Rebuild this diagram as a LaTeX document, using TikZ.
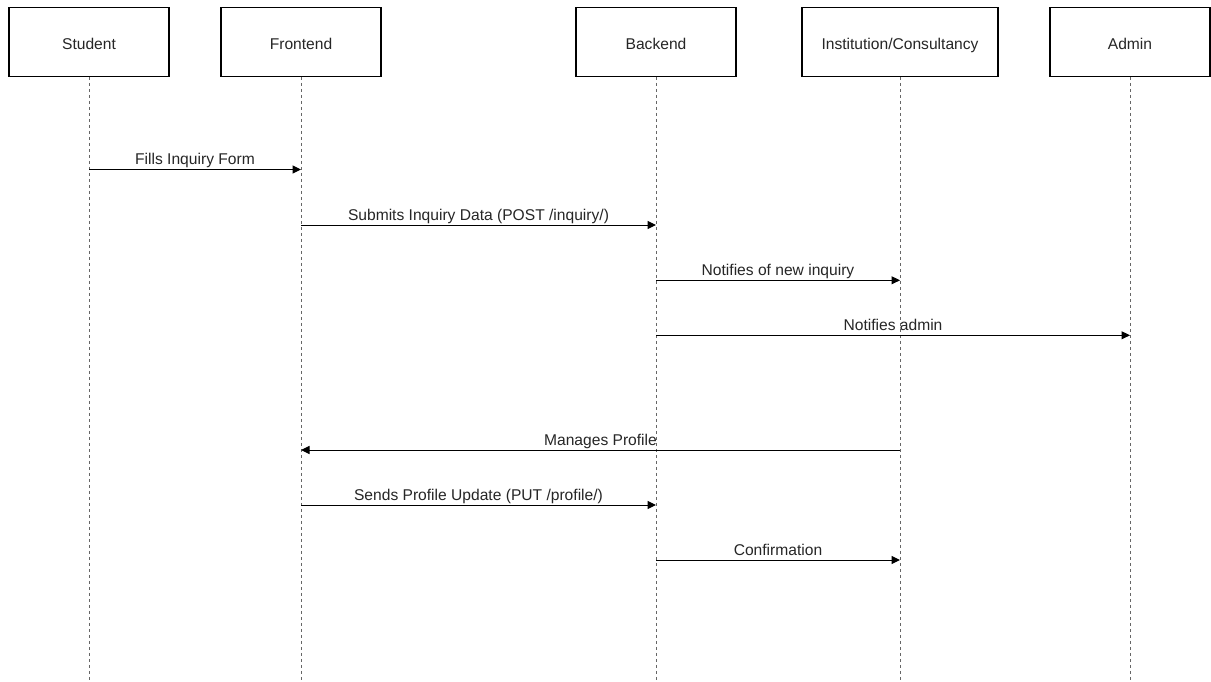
\documentclass[tikz,border=0pt]{standalone}
\usepackage{fontspec}
\setmainfont{Liberation Sans}
\usetikzlibrary{arrows.meta}
\begin{document}
\begin{tikzpicture}[x=1pt,y=-1pt,
  actor/.style={draw=black, line width=1.3pt, minimum height=69pt, inner sep=0pt,
    text height=16.4pt, text depth=0pt, text=black!85,
    font=\fontsize{15.6}{18}\selectfont},
  lifeline/.style={draw=black!60, line width=1pt, dash pattern=on 3pt off 3pt},
  msg/.style={draw=black, line width=1pt, -{Triangle[length=8.5pt,width=8pt]}},
  msglabel/.style={midway, anchor=base, yshift=4.5pt, inner sep=0pt, text=black!85,
    font=\fontsize{15.6}{18}\selectfont}]
\useasboundingbox (0,0) rectangle (1211,682);
\fill[white] (0,0) rectangle (1211,682);

% participants
\node[actor, minimum width=160pt] (student)  at (89,41.8)  {Student};
\node[actor, minimum width=160pt] (frontend) at (301,41.8) {Frontend};
\node[actor, minimum width=160pt] (backend)  at (656,41.8) {Backend};
\node[actor, minimum width=196pt] (inst)     at (900,41.8) {Institution/Consultancy};
\node[actor, minimum width=160pt] (admin)    at (1130,41.8) {Admin};

% lifelines
\coordinate (bottom) at (0,682);
\foreach \p in {student,frontend,backend,inst,admin}
  \draw[lifeline] (\p.south) -- (\p.south |- bottom);

% message rows
\coordinate (m1) at (0,169.5);
\coordinate (m2) at (0,225);
\coordinate (m3) at (0,280.3);
\coordinate (m4) at (0,335.3);
\coordinate (m5) at (0,450);
\coordinate (m6) at (0,505);
\coordinate (m7) at (0,560);

% messages
\draw[msg] (student |- m1) -- (frontend |- m1) node[msglabel] {Fills Inquiry Form};
\draw[msg] (frontend |- m2) -- (backend |- m2) node[msglabel] {Submits Inquiry Data (POST /inquiry/)};
\draw[msg] (backend |- m3) -- (inst |- m3) node[msglabel] {Notifies of new inquiry};
\draw[msg] (backend |- m4) -- (admin |- m4) node[msglabel] {Notifies admin};
\draw[msg] (inst |- m5) -- (frontend |- m5) node[msglabel] {Manages Profile};
\draw[msg] (frontend |- m6) -- (backend |- m6) node[msglabel] {Sends Profile Update (PUT /profile/)};
\draw[msg] (backend |- m7) -- (inst |- m7) node[msglabel] {Confirmation};
\end{tikzpicture}
\end{document}
